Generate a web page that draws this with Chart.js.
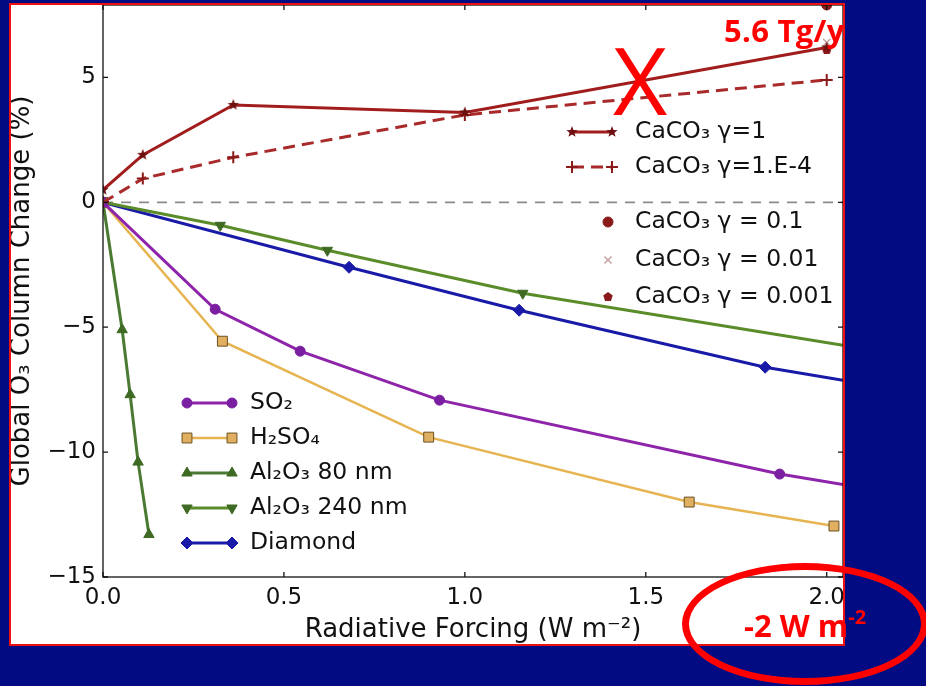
<!DOCTYPE html>
<html>
<head>
<meta charset="utf-8">
<script src="https://cdn.jsdelivr.net/npm/chart.js@4.4.1/dist/chart.umd.min.js"></script>
<style>
  html, body { margin: 0; padding: 0; }
  body { width: 926px; height: 686px; background: #020b82; position: relative; overflow: hidden; }
  #panel { position: absolute; left: 9px; top: 3px; width: 832px; height: 639px; border: 2px solid #ee1111; background: #fff; }
  #panel canvas { display: block; }
  .note { position: absolute; color: #ff0000; font-family: "Open Sans", sans-serif; white-space: nowrap; line-height: 1; }
  #tgy { left: 724px; top: 15px; font-size: 31px; font-weight: 700; letter-spacing: 0.3px; }
  #cross { left: 613px; top: 32px; font-size: 94px; font-weight: 400; }
  #wm2 { left: 744px; top: 610px; font-size: 31px; font-weight: 700; }
  #wm2 span { font-size: 20px; position: relative; top: -13px; }
  #ring { position: absolute; left: 682px; top: 563px; width: 246px; height: 122px; box-sizing: border-box; border: 7px solid #ff0000; border-radius: 50%; }
</style>
</head>
<body>
<div id="panel"><canvas id="chart"></canvas></div>
<div class="note" id="cross">X</div>
<div class="note" id="tgy">5.6 Tg/y</div>
<div id="ring"></div>
<div class="note" id="wm2">-2 W m<span>-2</span></div>
<script>
// values
const xTicks = [0, 0.5, 1.0, 1.5, 2.0]
const yTicks = [-15, -10, -5, 0, 5]

const caG1X = [0, 0.11, 0.36, 1.0, 2.0]
const caG1Y = [0.5, 1.9, 3.9, 3.6, 6.2]
const caG4X = [0, 0.11, 0.36, 1.0, 2.0]
const caG4Y = [0, 0.95, 1.8, 3.5, 4.9]
const caG01 = [[2.0, 7.9]]
const caG001 = [[2.0, 6.4]]
const caG0001 = [[2.0, 6.1]]

const so2X = [0, 0.31, 0.545, 0.93, 1.87, 2.045]
const so2Y = [0, -4.28, -5.96, -7.92, -10.88, -11.3]
const h2so4X = [0, 0.33, 0.9, 1.62, 2.02]
const h2so4Y = [0, -5.56, -9.4, -12.0, -12.96]
const al80X = [0, 0.053, 0.075, 0.097, 0.127]
const al80Y = [0, -5.1, -7.7, -10.4, -13.3]
const al240X = [0, 0.324, 0.62, 1.16, 2.045]
const al240Y = [0, -0.92, -1.92, -3.64, -5.72]
const diamX = [0, 0.68, 1.15, 1.83, 2.045]
const diamY = [0, -2.6, -4.32, -6.6, -7.12]

const FONT = '"DejaVu Sans", sans-serif'

function pts(xs, ys) {
  return xs.map((x, i) => ({ x: x, y: ys[i] }))
}

// filled star / pentagon markers like matplotlib's
function makeStar(color, r, inner) {
  const c = document.createElement('canvas')
  const s = Math.ceil(r * 2 + 2)
  c.width = c.height = s
  const g = c.getContext('2d')
  g.fillStyle = color
  g.beginPath()
  for (let i = 0; i < 10; i++) {
    const rad = i % 2 ? r * inner : r
    const a = -Math.PI / 2 + i * Math.PI / 5
    g.lineTo(s / 2 + rad * Math.cos(a), s / 2 + rad * Math.sin(a))
  }
  g.closePath()
  g.fill()
  return c
}
const starImg = makeStar('#6e1010', 6, 0.42)
const pentImg = makeStar('#8b1a1a', 5, 0.809)

// hide markers on points that only carry the line to the plot edge
const edgeRadius = (r) => (ctx) => (ctx.raw && ctx.raw.x > 2.04 ? 0 : r)

const series = {
  caG1: { color: '#a11d1d', dash: [], style: starImg, r: 6, mColor: '#6e1010', bw: 3 },
  caG4: { color: '#a82a2a', dash: [12, 7], style: 'cross', r: 6, mColor: '#8b1a1a', bw: 3 },
  so2: { color: '#8e24aa', dash: [], style: 'circle', r: 5, mColor: '#7b1fa2', bw: 3 },
  h2so4: { color: '#e6b450', dash: [], style: 'rect', r: 7, mColor: '#e0b060', edge: '#6b5020', bw: 2.5 },
  al80: { color: '#4a7a32', dash: [], style: 'triangle', r: 6, mColor: '#3f6a24', bw: 3 },
  al240: { color: '#5b8c2a', dash: [], style: 'triangle', rot: 180, r: 6, mColor: '#3f6a24', bw: 3 },
  diam: { color: '#1a1aa8', dash: [], style: 'rectRot', r: 6, mColor: '#1a1aa8', bw: 3 },
}

function lineSet(label, data, s) {
  return {
    label: label,
    data: data,
    borderColor: s.color,
    borderWidth: s.bw,
    borderDash: s.dash,
    pointStyle: s.style,
    pointRotation: s.rot || 0,
    pointRadius: edgeRadius(s.r),
    pointBackgroundColor: s.mColor,
    pointBorderColor: s.edge || s.mColor,
    pointBorderWidth: s.style === 'cross' ? 2 : 1,
    showLine: true,
    tension: 0,
  }
}

const dotSet = (label, data, style, r, color, bw) => ({
  label: label,
  data: data.map(p => ({ x: p[0], y: p[1] })),
  showLine: false,
  pointStyle: style,
  pointRadius: r,
  pointBackgroundColor: color,
  pointBorderColor: color,
  pointBorderWidth: bw,
})

const datasets = [
  lineSet('CaCO₃ γ=1', pts(caG1X, caG1Y), series.caG1),
  lineSet('CaCO₃ γ=1.E-4', pts(caG4X, caG4Y), series.caG4),
  dotSet('CaCO₃ γ = 0.1', caG01, 'circle', 5, '#8b1a1a', 1),
  dotSet('CaCO₃ γ = 0.01', caG001, 'crossRot', 5, '#c8a0a0', 1.5),
  dotSet('CaCO₃ γ = 0.001', caG0001, pentImg, 5, '#8b1a1a', 1),
  lineSet('SO₂', pts(so2X, so2Y), series.so2),
  lineSet('H₂SO₄', pts(h2so4X, h2so4Y), series.h2so4),
  lineSet('Al₂O₃ 80 nm', pts(al80X, al80Y), series.al80),
  lineSet('Al₂O₃ 240 nm', pts(al240X, al240Y), series.al240),
  lineSet('Diamond', pts(diamX, diamY), series.diam),
]

// zero line, inward ticks and spines
const framePlugin = {
  id: 'frame',
  beforeDatasetsDraw(chart) {
    const { ctx, chartArea: a, scales } = chart
    const y0 = scales.y.getPixelForValue(0)
    ctx.save()
    ctx.strokeStyle = '#8a8a8a'
    ctx.lineWidth = 1.8
    ctx.setLineDash([10, 8])
    ctx.beginPath()
    ctx.moveTo(a.left, y0)
    ctx.lineTo(a.right, y0)
    ctx.stroke()
    ctx.restore()
  },
  afterDatasetsDraw(chart) {
    const { ctx, chartArea: a, scales } = chart
    ctx.save()
    ctx.strokeStyle = '#111'
    ctx.lineWidth = 1.3
    ctx.strokeRect(a.left, a.top, a.right - a.left, a.bottom - a.top)
    ctx.beginPath()
    xTicks.forEach(v => {
      const x = scales.x.getPixelForValue(v)
      ctx.moveTo(x, a.bottom); ctx.lineTo(x, a.bottom - 5)
      ctx.moveTo(x, a.top); ctx.lineTo(x, a.top + 5)
    })
    yTicks.forEach(v => {
      const y = scales.y.getPixelForValue(v)
      ctx.moveTo(a.left, y); ctx.lineTo(a.left + 5, y)
      ctx.moveTo(a.right, y); ctx.lineTo(a.right - 5, y)
    })
    ctx.stroke()
    ctx.restore()
  },
}

// three legend boxes placed like the original figure
function drawMarker(ctx, style, r, rot, fill, stroke, bw, x, y) {
  ctx.fillStyle = fill
  ctx.strokeStyle = stroke
  ctx.lineWidth = bw
  ctx.setLineDash([])
  Chart.helpers.drawPoint(ctx, { pointStyle: style, radius: r, rotation: rot || 0, borderWidth: bw }, x, y)
}

const legendPlugin = {
  id: 'legends',
  afterDraw(chart) {
    const ctx = chart.ctx
    ctx.save()
    ctx.font = '23.5px ' + FONT
    ctx.textBaseline = 'middle'
    ctx.fillStyle = '#111'

    const lineEntries = [
      { s: series.caG1, label: 'CaCO₃ γ=1', x1: 561, x2: 601, y: 127, tx: 624 },
      { s: series.caG4, label: 'CaCO₃ γ=1.E-4', x1: 561, x2: 601, y: 162, tx: 624 },
      { s: series.so2, label: 'SO₂', x1: 176, x2: 221, y: 398, tx: 239 },
      { s: series.h2so4, label: 'H₂SO₄', x1: 176, x2: 221, y: 433, tx: 239 },
      { s: series.al80, label: 'Al₂O₃ 80 nm', x1: 176, x2: 221, y: 468, tx: 239 },
      { s: series.al240, label: 'Al₂O₃ 240 nm', x1: 176, x2: 221, y: 503, tx: 239 },
      { s: series.diam, label: 'Diamond', x1: 176, x2: 221, y: 538, tx: 239 },
    ]
    lineEntries.forEach(e => {
      const s = e.s
      ctx.save()
      ctx.strokeStyle = s.color
      ctx.lineWidth = s.bw
      ctx.setLineDash(s.dash)
      ctx.beginPath()
      ctx.moveTo(e.x1, e.y)
      ctx.lineTo(e.x2, e.y)
      ctx.stroke()
      const bw = s.style === 'cross' ? 2 : 1
      drawMarker(ctx, s.style, s.r, s.rot, s.mColor, s.edge || s.mColor, bw, e.x1, e.y)
      drawMarker(ctx, s.style, s.r, s.rot, s.mColor, s.edge || s.mColor, bw, e.x2, e.y)
      ctx.restore()
      ctx.fillStyle = '#111'
      ctx.fillText(e.label, e.tx, e.y)
    })

    const dotEntries = [
      { style: 'circle', color: '#8b1a1a', bw: 1, label: 'CaCO₃ γ = 0.1', y: 217 },
      { style: 'crossRot', color: '#c8a0a0', bw: 1.5, label: 'CaCO₃ γ = 0.01', y: 255 },
      { style: pentImg, color: '#8b1a1a', bw: 1, label: 'CaCO₃ γ = 0.001', y: 292 },
    ]
    dotEntries.forEach(e => {
      ctx.save()
      drawMarker(ctx, e.style, 5, 0, e.color, e.color, e.bw, 597, e.y)
      ctx.restore()
      ctx.fillStyle = '#111'
      ctx.fillText(e.label, 624, e.y)
    })
    ctx.restore()
  },
}

new Chart(document.getElementById('chart'), {
  type: 'scatter',
  data: { datasets: datasets },
  options: {
    responsive: true,
    maintainAspectRatio: false,
    animation: false,
    layout: { padding: 0, autoPadding: false },
    plugins: { legend: { display: false }, tooltip: { enabled: false } },
    scales: {
      x: {
        type: 'linear',
        min: 0,
        max: 2.045,
        afterFit: (s) => { s.height = 67; s.paddingLeft = 0; s.paddingRight = 0 },
        afterBuildTicks: (s) => { s.ticks = xTicks.map(v => ({ value: v })) },
        grid: { display: false, drawTicks: false },
        border: { display: false },
        ticks: {
          padding: 7,
          color: '#111',
          font: { family: FONT, size: 23 },
          maxRotation: 0,
          autoSkip: false,
          callback: (v) => Number(v).toFixed(1),
        },
        title: {
          display: true,
          text: 'Radiative Forcing (W m⁻²)',
          color: '#111',
          font: { family: FONT, size: 26, lineHeight: 1 },
          padding: { top: 0, bottom: 1 },
        },
      },
      y: {
        type: 'linear',
        min: -15,
        max: 7.9,
        afterFit: (s) => { s.width = 92; s.paddingTop = 0; s.paddingBottom = 0 },
        afterBuildTicks: (s) => { s.ticks = yTicks.map(v => ({ value: v })) },
        grid: { display: false, drawTicks: false },
        border: { display: false },
        ticks: {
          padding: 7,
          color: '#111',
          font: { family: FONT, size: 23 },
          autoSkip: false,
          callback: (v) => String(v).replace('-', '\u2212'),
        },
        title: {
          display: true,
          text: 'Global O₃ Column Change (%)',
          color: '#111',
          font: { family: FONT, size: 26, lineHeight: 1 },
          padding: { top: -2, bottom: 0 },
        },
      },
    },
  },
  plugins: [framePlugin, legendPlugin],
})
</script>
</body>
</html>
